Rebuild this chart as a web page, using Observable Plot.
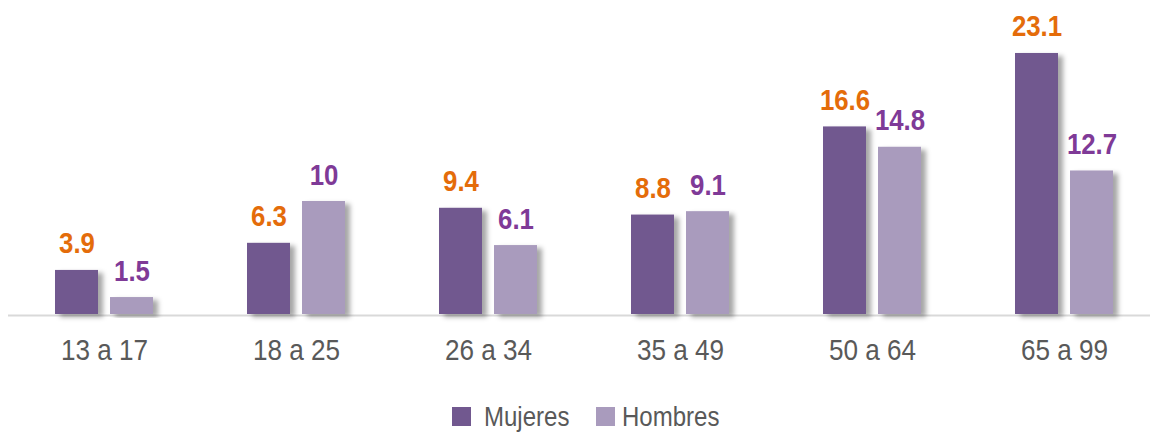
<!DOCTYPE html>
<html>
<head>
<meta charset="utf-8">
<script src="https://cdn.jsdelivr.net/npm/d3@7"></script>
<script src="https://cdn.jsdelivr.net/npm/@observablehq/plot@0.6"></script>
<style>
  html, body { margin: 0; padding: 0; background: #fff; }
  #chart { width: 1150px; height: 432px; }
  svg { display: block; }
</style>
</head>
<body>
<div id="chart"></div>
<script>
const categories = ["13 a 17", "18 a 25", "26 a 34", "35 a 49", "50 a 64", "65 a 99"];
const series = ["Mujeres", "Hombres"];
const mujeres = [3.9, 6.3, 9.4, 8.8, 16.6, 23.1];
const hombres = [1.5, 10, 6.1, 9.1, 14.8, 12.7];
const barColors = ["#71588f", "#a99bbd"];
const labelColors = ["#e46c0a", "#7f3a97"];

const data = [];
categories.forEach((c, i) => {
  data.push({cat: c, sex: series[0], value: mujeres[i]});
  data.push({cat: c, sex: series[1], value: hombres[i]});
});

const font = '"Liberation Sans", Arial, sans-serif';

const plot = Plot.plot({
  width: 1150,
  height: 395,
  marginLeft: 0,
  marginRight: 0,
  marginTop: 0,
  marginBottom: 81,
  style: {fontFamily: font, background: "#fff", overflow: "visible"},
  fx: {domain: categories, range: [8, 1160], padding: 0, label: null},
  x: {domain: series, paddingInner: 0.22, paddingOuter: 0.855, axis: null},
  y: {domain: [0, 25], range: [314, 31.5], axis: null},
  color: {domain: series, range: barColors},
  marks: [
    Plot.ruleY([0], {stroke: "#d9d9d9", strokeWidth: 2, dy: 1}),
    Plot.barY(data, {fx: "cat", x: "sex", y: "value", fill: "sex"}),
    Plot.text(data, {
      fx: "cat", x: "sex", y: "value",
      text: d => String(d.value),
      fill: d => labelColors[series.indexOf(d.sex)],
      fontSize: 29, fontWeight: "bold",
      lineAnchor: "bottom", dy: -17
    }),
    Plot.axisFx({
      anchor: "bottom", tickSize: 0, tickPadding: 24, fontSize: 30,
      fill: "#595959", label: null
    })
  ]
});

// condense text horizontally (narrow-font look) around each anchor
function condense(sel, k) {
  sel.each(function() {
    const x = +this.getAttribute("x") || 0;
    const t = this.getAttribute("transform") || "";
    this.setAttribute("transform", `${t} translate(${x},0) scale(${k},1) translate(${-x},0)`);
  });
}

const svg = d3.select(plot);
condense(svg.selectAll('g[aria-label="text"] text'), 0.89);
condense(svg.selectAll('g[aria-label="fx-axis tick label"] text'), 0.87);

// drop shadow on bars
const defs = svg.insert("defs", ":first-child");
const f = defs.append("filter").attr("id", "shadow")
  .attr("x", "-20%").attr("y", "-20%").attr("width", "160%").attr("height", "140%");
f.append("feDropShadow").attr("dx", 5).attr("dy", 3).attr("stdDeviation", 2.5)
  .attr("flood-color", "#000").attr("flood-opacity", 0.35);
svg.selectAll('g[aria-label="bar"] rect').attr("filter", "url(#shadow)");

const chart = document.getElementById("chart");
chart.appendChild(plot);

// legend below the chart
const leg = d3.select(chart).append("svg")
  .attr("width", 1150).attr("height", 37)
  .style("font-family", font);
const swX = [452, 596];
const txX = [484, 622];
series.forEach((s, i) => {
  leg.append("rect").attr("x", swX[i]).attr("y", 12).attr("width", 19).attr("height", 19)
    .attr("fill", barColors[i]);
  leg.append("text").attr("x", 0).attr("y", 0)
    .attr("transform", `translate(${txX[i]},31) scale(0.89,1)`)
    .attr("font-size", 27).attr("fill", "#595959").text(s);
});
</script>
</body>
</html>
